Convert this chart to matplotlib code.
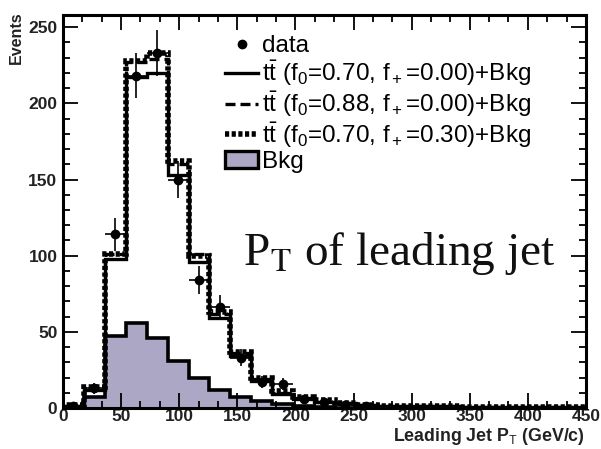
import numpy as np
import matplotlib
matplotlib.use('Agg')
import matplotlib.pyplot as plt
from matplotlib.ticker import MultipleLocator

plt.rcParams['font.family'] = ['Liberation Sans', 'DejaVu Sans']
plt.rcParams['mathtext.fontset'] = 'custom'
plt.rcParams['mathtext.rm'] = 'Liberation Sans'
plt.rcParams['mathtext.it'] = 'Liberation Sans'

# --- histogram content (25 bins of 18 GeV, 0-450) ---
edges = np.arange(0, 451, 18)
bkg = [0, 7, 47, 56, 46, 31, 20, 12, 7, 4.5, 2.5, 1, 0.5, 0.3, 0.2,
       0.1, 0.1, 0, 0, 0, 0, 0, 0, 0, 0]
tt_070_000 = [1.5, 12, 98, 217, 220, 153, 96, 59, 34, 18, 9, 6, 4, 3, 2,
              1.5, 1.2, 1, 1, 0.8, 0.8, 0.7, 0.6, 0.6, 0.5]
tt_088_000 = [1.5, 13, 101, 227, 229, 160, 101, 62, 36, 19, 10, 6.5, 4, 3, 2,
              1.5, 1.2, 1, 1, 0.8, 0.8, 0.7, 0.6, 0.6, 0.5]
tt_070_030 = [1.8, 14, 101, 228, 233, 162, 100, 63, 37, 20, 11, 7, 5, 3.5, 2.2,
              1.6, 1.3, 1.1, 1, 0.9, 0.8, 0.7, 0.7, 0.6, 0.5]

data_x = [9, 27, 45, 63, 81, 99, 117, 135, 153, 171, 189, 207, 225, 243, 261]
data_y = [1, 13, 114, 218, 233, 150, 84, 66, 33, 17, 16, 6, 4, 2, 1]
data_err = [1, 3.6, 10.7, 14.8, 15.3, 12.2, 9.2, 8.1, 5.7, 4.1, 4.0, 2.4, 2.0, 1.4, 1.0]

fig = plt.figure(figsize=(6.01, 4.49), dpi=100)
ax = fig.add_axes([0.1048, 0.0913, 0.8702, 0.8753])

bkg_col = '#aba7c4'
dot_ls = (0, (0.75, 0.45))
ax.stairs(bkg, edges, fill=True, color=bkg_col, zorder=1)
ax.stairs(bkg, edges, color='black', lw=2.6, zorder=2)
ax.stairs(tt_070_000, edges, color='black', lw=2.4, zorder=3)
ax.stairs(tt_088_000, edges, color='black', lw=2.4, ls=(0, (3, 1.5)), zorder=3)
ax.stairs(tt_070_030, edges, color='black', lw=4.0, ls=dot_ls, zorder=4)
ax.errorbar(data_x, data_y, yerr=data_err, xerr=9, fmt='o', color='black',
            ms=6, elinewidth=1.2, capsize=0, zorder=5)

# legend handles (proxy artists)
h_data, = ax.plot([], [], 'o', color='black', ms=6)
h1, = ax.plot([], [], color='black', lw=2.4)
h2, = ax.plot([], [], color='black', lw=2.4, ls=(0, (3, 1.5)))
h3, = ax.plot([], [], color='black', lw=4.0, ls=dot_ls)
h_bkg = plt.Rectangle((0, 0), 1, 1, facecolor=bkg_col, edgecolor='black', lw=2.4)
labels = ['data',
          r'$\mathrm{t\bar{t}}$ (f$_0$=0.70, f$_+$=0.00)+Bkg',
          r'$\mathrm{t\bar{t}}$ (f$_0$=0.88, f$_+$=0.00)+Bkg',
          r'$\mathrm{t\bar{t}}$ (f$_0$=0.70, f$_+$=0.30)+Bkg',
          'Bkg']
leg = ax.legend([h_data, h1, h2, h3, h_bkg], labels, loc='upper left',
                bbox_to_anchor=(0.31, 0.948), frameon=False, fontsize=17.5,
                handlelength=1.35, handletextpad=0.17, labelspacing=0.05,
                borderaxespad=0, borderpad=0)

ax.text(0.344, 0.364, r'P$_\mathrm{T}$ of leading jet', transform=ax.transAxes,
        fontsize=34, family='Liberation Serif', math_fontfamily='stix',
        ha='left', va='baseline', color='#111111')

ax.set_xlim(0, 450)
ax.set_ylim(0, 258)
ax.xaxis.set_major_locator(MultipleLocator(50))
ax.xaxis.set_minor_locator(MultipleLocator(50 / 3))
ax.yaxis.set_major_locator(MultipleLocator(50))
ax.yaxis.set_minor_locator(MultipleLocator(10))
ax.tick_params(which='both', direction='in', top=True, right=True,
               labelsize=12.5, labelcolor='#222222', width=1.3, pad=4)
ax.tick_params(axis='x', which='both', pad=1)
ax.tick_params(which='major', length=11)
ax.tick_params(which='minor', length=5)
for lab in ax.get_xticklabels() + ax.get_yticklabels():
    lab.set_fontweight('bold')
for sp in ax.spines.values():
    sp.set_linewidth(2.2)

fig.text(0.973, 0.004, r'Leading Jet P$_\mathrm{T}$ (GeV/c)', ha='right',
         va='bottom', fontsize=12.8, fontweight='bold', color='#222222')
fig.text(0.027, 0.975, 'Events', rotation=90, ha='center', va='top',
         fontsize=11.5, fontweight='bold', color='#222222')

fig.savefig('out.png', dpi=100)
